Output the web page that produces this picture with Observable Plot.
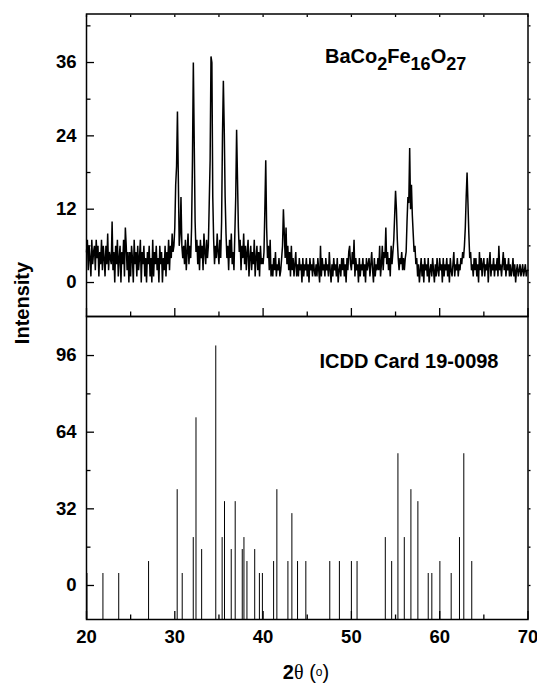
<!DOCTYPE html>
<html>
<head>
<meta charset="utf-8">
<script src="https://cdn.jsdelivr.net/npm/d3@7"></script>
<script src="https://cdn.jsdelivr.net/npm/@observablehq/plot@0.6"></script>
<style>
  body { margin: 0; background: #fff; }
  #wrap { position: relative; width: 537px; height: 685px; font-family: "Liberation Sans", Arial, sans-serif; font-weight: bold; color: #000; }
  #top, #bottom { position: absolute; left: 0; }
  #top { top: 0; }
  #bottom { top: 316px; }
  #ylab { position: absolute; left: 22px; top: 303px; transform: translate(-50%, -50%) rotate(-90deg); font-size: 20px; line-height: 1; white-space: nowrap; }
  #xlab { position: absolute; left: 306px; top: 672px; transform: translate(-50%, -50%); font-size: 20px; line-height: 1; white-space: nowrap; }
  #xlab .th { font-family: "Liberation Serif", "DejaVu Serif", serif; font-weight: normal; }
  #xlab .par { font-weight: normal; }
  #xlab .deg { font-weight: normal; font-size: 12px; position: relative; top: -3px; }
</style>
</head>
<body>
<div id="wrap">
  <div id="top"></div>
  <div id="bottom"></div>
  <div id="ylab">Intensity</div>
  <div id="xlab">2<span class="th">θ</span><span class="par"> (</span><span class="deg">o</span><span class="par">)</span></div>
</div>
<script>
// ---- axes ----
const xDomain = [20, 70];
const xMajor = [20, 30, 40, 50, 60, 70];
const xMinor = [25, 35, 45, 55, 65];
const topDomain = [-5.56, 43.94];
const topMajor = [0, 12, 24, 36];
const topMinor = [6, 18, 30, 42];
const botDomain = [-14.2, 112.3];
const botMajor = [0, 32, 64, 96];
const botMinor = [16, 48, 80];

// ---- measured XRD scan (2θ from 20 to 70, step 0.1) ----
const scanStart = 20;
const scanStep = 0.1;
const scanCounts = [
  5,7,2,6,4,1,7,3,5,6,      // 20
  2,7,4,6,1,5,3,7,2,6,      // 21
  4,1,6,3,8,2,5,4,3,10,     // 22
  2,5,0,6,3,7,1,4,6,0,      // 23
  5,3,7,1,9,6,2,5,0,5,      // 24
  1,6,4,0,7,3,5,1,6,2,      // 25
  4,7,0,5,3,6,1,4,0,5,      // 26
  3,6,1,4,0,7,1,5,3,6,      // 27
  2,4,0,6,3,5,0,4,2,6,      // 28
  1,5,3,7,2,6,4,8,5,6,      // 29
  9,16,19,28,17,6,8,14,6,4, // 30
  6,3,7,2,5,8,3,6,4,9,      // 31
  20,36,23,10,5,7,3,6,2,7,  // 32
  4,6,2,8,5,3,7,4,6,13,     // 33
  20,37,36,14,7,3,6,4,8,5,  // 34
  3,7,4,10,24,33,25,14,8,4, // 35
  6,2,7,4,8,3,5,2,8,14,     // 36
  25,17,9,5,7,2,6,4,8,3,    // 37
  6,2,5,7,1,4,6,2,5,3,      // 38
  7,1,4,6,2,5,1,6,3,4,      // 39
  3,5,12,20,9,4,6,2,7,1,    // 40
  3,1,4,2,5,1,3,2,4,1,      // 41
  2,4,6,12,8,4,9,3,6,2,     // 42
  5,1,6,2,4,1,3,5,1,3,      // 43
  1,4,2,3,0,4,1,3,2,4,      // 44
  1,3,0,4,2,3,1,4,2,1,      // 45
  3,1,4,2,0,6,1,4,2,3,      // 46
  1,4,2,3,1,5,2,0,3,1,      // 47
  4,2,3,1,4,0,2,3,1,4,      // 48
  2,4,1,3,0,4,2,5,6,3,      // 49
  2,5,3,7,1,4,2,3,0,4,      // 50
  1,3,2,4,1,3,0,4,2,3,      // 51
  4,1,3,5,2,0,4,1,3,2,      // 52
  4,2,6,1,3,6,2,5,4,9,      // 53
  3,5,2,4,1,6,3,5,7,11,     // 54
  15,12,7,4,2,4,3,5,2,4,    // 55
  2,4,5,10,14,13,22,12,16,11, // 56
  8,5,6,3,4,1,3,0,2,4,      // 57
  1,3,0,4,2,3,1,4,0,2,      // 58
  3,1,4,2,0,3,1,4,2,1,      // 59
  4,2,3,0,4,1,3,2,4,1,      // 60
  3,0,4,2,1,3,5,1,3,2,      // 61
  4,1,3,2,4,3,5,4,6,9,      // 62
  14,18,13,8,4,5,2,3,1,4,   // 63
  2,4,1,3,0,5,2,4,1,3,      // 64
  4,1,3,2,4,0,3,5,1,3,      // 65
  2,4,1,3,2,4,1,6,2,3,      // 66
  1,3,5,2,4,1,3,2,4,1,      // 67
  3,1,2,4,1,3,0,2,3,1,      // 68
  2,3,1,2,3,1,2,3,1,2,      // 69
  2                         // 70
];

// ---- ICDD card 19-0098 reference lines ----
const cardTheta = [20.05, 21.86, 23.65, 27.03, 30.27, 30.84, 32.09, 32.40, 33.04, 34.64,
  35.36, 35.63, 36.39, 36.84, 37.64, 37.83, 38.17, 39.05, 39.58, 39.92,
  41.19, 41.56, 42.81, 43.26, 43.90, 44.84, 47.55, 48.64, 50.00, 50.64,
  53.84, 54.56, 55.27, 55.99, 56.74, 57.53, 58.70, 59.11, 60.02, 61.30,
  62.24, 62.73, 63.63];
const cardIntensity = [5, 5, 5, 10, 40, 5, 20, 70, 15, 100,
  20, 35, 15, 35, 15, 20, 10, 15, 5, 5,
  10, 40, 10, 30, 10, 10, 10, 10, 10, 10,
  20, 10, 55, 20, 40, 35, 5, 5, 10, 5,
  20, 55, 10];

const scan = scanCounts.map((y, i) => ({x: +(scanStart + i * scanStep).toFixed(2), y}));
const card = cardTheta.map((x, i) => ({x, y: cardIntensity[i]}));

const font = "'Liberation Sans', Arial, sans-serif";
const baseStyle = {fontFamily: font, fontSize: "18.5px", fontWeight: "bold", color: "#000", background: "transparent", overflow: "visible"};
const tickW = 1.3;

const topPlot = Plot.plot({
  width: 537, height: 316,
  marginTop: 13.5, marginBottom: 0, marginLeft: 86, marginRight: 9.5,
  x: {domain: xDomain},
  y: {domain: topDomain},
  style: baseStyle,
  marks: [
    Plot.line(scan, {x: "x", y: "y", stroke: "#000", strokeWidth: 1.5, strokeLinejoin: "miter"}),
    Plot.frame({stroke: "#000", strokeWidth: 1.5}),
    Plot.axisY(topMajor, {anchor: "left", tickSize: 0, tickPadding: 10, label: null}),
    Plot.axisY(topMajor, {anchor: "left", tickSize: -8, strokeWidth: tickW, fill: "none", label: null}),
    Plot.axisY(topMinor, {anchor: "left", tickSize: -4.5, strokeWidth: tickW, fill: "none", label: null}),
    Plot.axisY([...topMajor, ...topMinor], {anchor: "right", tickSize: 2, strokeWidth: tickW, fill: "none", label: null}),
    Plot.axisX(xMajor, {anchor: "bottom", tickSize: -8, strokeWidth: tickW, fill: "none", label: null}),
    Plot.axisX(xMinor, {anchor: "bottom", tickSize: -4.5, strokeWidth: tickW, fill: "none", label: null}),
    Plot.axisX([...xMajor, ...xMinor], {anchor: "top", tickSize: -2.5, strokeWidth: tickW, fill: "none", label: null})
  ]
});

const bottomPlot = Plot.plot({
  width: 537, height: 369,
  marginTop: 0, marginBottom: 66, marginLeft: 86, marginRight: 9.5,
  x: {domain: xDomain},
  y: {domain: botDomain},
  style: baseStyle,
  marks: [
    Plot.ruleX(card, {x: "x", y1: () => botDomain[0], y2: "y", stroke: "#000", strokeWidth: 1}),
    Plot.frame({stroke: "#000", strokeWidth: 1.5}),
    Plot.text(["ICDD Card 19-0098"], {text: d => d, frameAnchor: "top-right", textAnchor: "end", lineAnchor: "top", dx: -29.5, dy: 37, fontSize: 20, fontWeight: "bold"}),
    Plot.axisY(botMajor, {anchor: "left", tickSize: 0, tickPadding: 10, label: null}),
    Plot.axisY(botMajor, {anchor: "left", tickSize: -8, strokeWidth: tickW, fill: "none", label: null}),
    Plot.axisY(botMinor, {anchor: "left", tickSize: -4.5, strokeWidth: tickW, fill: "none", label: null}),
    Plot.axisY([...botMajor, ...botMinor], {anchor: "right", tickSize: 2, strokeWidth: tickW, fill: "none", label: null}),
    Plot.axisX(xMajor, {anchor: "bottom", tickSize: 0, tickPadding: 10, label: null}),
    Plot.axisX(xMajor, {anchor: "bottom", tickSize: -8, strokeWidth: tickW, fill: "none", label: null}),
    Plot.axisX(xMinor, {anchor: "bottom", tickSize: -4.5, strokeWidth: tickW, fill: "none", label: null})
  ]
});

// chemical formula label with subscripts
const formula = [["BaCo", false], ["2", true], ["Fe", false], ["16", true], ["O", false], ["27", true]];
const ft = d3.select(topPlot).append("text")
  .attr("x", 325).attr("y", 63)
  .attr("text-anchor", "start")
  .attr("font-family", font).attr("font-weight", "bold").attr("fill", "#000");
let prevSub = false;
formula.forEach(([s, sub]) => {
  const t = ft.append("tspan").text(s).attr("font-size", sub ? 18 : 20);
  if (sub !== prevSub) t.attr("dy", sub ? 7 : -7);
  prevSub = sub;
});

document.getElementById("top").appendChild(topPlot);
document.getElementById("bottom").appendChild(bottomPlot);
</script>
</body>
</html>
